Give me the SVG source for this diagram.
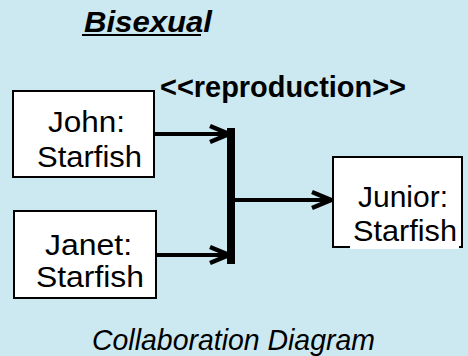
<svg xmlns="http://www.w3.org/2000/svg" width="468" height="356" viewBox="0 0 468 356">
<style>
.bg{fill:#cce8f1}
.box{fill:#ffffff;stroke:#000;stroke-width:2}
.t{font-family:"Liberation Sans",Arial,sans-serif;font-size:29px;fill:#000}
.b{font-weight:bold}
.i{font-style:italic}
.conn{stroke:#000;stroke-width:4;fill:none}
</style>
<defs>
<marker id="arr" markerUnits="userSpaceOnUse" viewBox="-24 -11 26 22" markerWidth="26" markerHeight="22" refX="0" refY="0" orient="auto">
<path d="M-20,-8 L-1,0 L-20,8" fill="none" stroke="#000" stroke-width="4.5"/>
</marker>
</defs>
<rect class="bg" x="0" y="0" width="468" height="356"/>
<g id="title">
<text class="t b i" x="84" y="32" font-size="27" textLength="128" lengthAdjust="spacingAndGlyphs">Bisexual</text>
<line x1="82" y1="35" x2="201" y2="35" stroke="#000" stroke-width="2"/>
</g>
<g id="stereotype">
<text class="t b" x="160" y="97" font-size="27" textLength="246" lengthAdjust="spacingAndGlyphs">&lt;&lt;reproduction&gt;&gt;</text>
</g>
<g id="john">
<rect class="box" x="13" y="91" width="141" height="86"/>
<text class="t" x="48" y="132" textLength="77" lengthAdjust="spacingAndGlyphs">John:</text>
<text class="t" x="37" y="167" textLength="105" lengthAdjust="spacingAndGlyphs">Starfish</text>
</g>
<g id="janet">
<rect class="box" x="14" y="211" width="142" height="87"/>
<text class="t" x="45" y="255" textLength="87" lengthAdjust="spacingAndGlyphs">Janet:</text>
<text class="t" x="36" y="287" textLength="108" lengthAdjust="spacingAndGlyphs">Starfish</text>
</g>
<g id="junior">
<rect class="box" x="333" y="157" width="129" height="90"/>
<rect x="350" y="218" width="109" height="31" fill="#ffffff"/>
<text class="t" x="358" y="207" textLength="90" lengthAdjust="spacingAndGlyphs">Junior:</text>
<text class="t" x="353" y="241" textLength="104" lengthAdjust="spacingAndGlyphs">Starfish</text>
</g>
<g id="connectors">
<rect x="227" y="128" width="8" height="136" fill="#000"/>
<line class="conn" x1="155" y1="134" x2="230" y2="134" marker-end="url(#arr)"/>
<line class="conn" x1="157" y1="255" x2="230" y2="255" marker-end="url(#arr)"/>
<line class="conn" x1="235" y1="200" x2="332" y2="200" marker-end="url(#arr)"/>
</g>
<g id="caption">
<text class="t i" x="92" y="350" font-size="28" textLength="283" lengthAdjust="spacingAndGlyphs">Collaboration Diagram</text>
</g>
</svg>
